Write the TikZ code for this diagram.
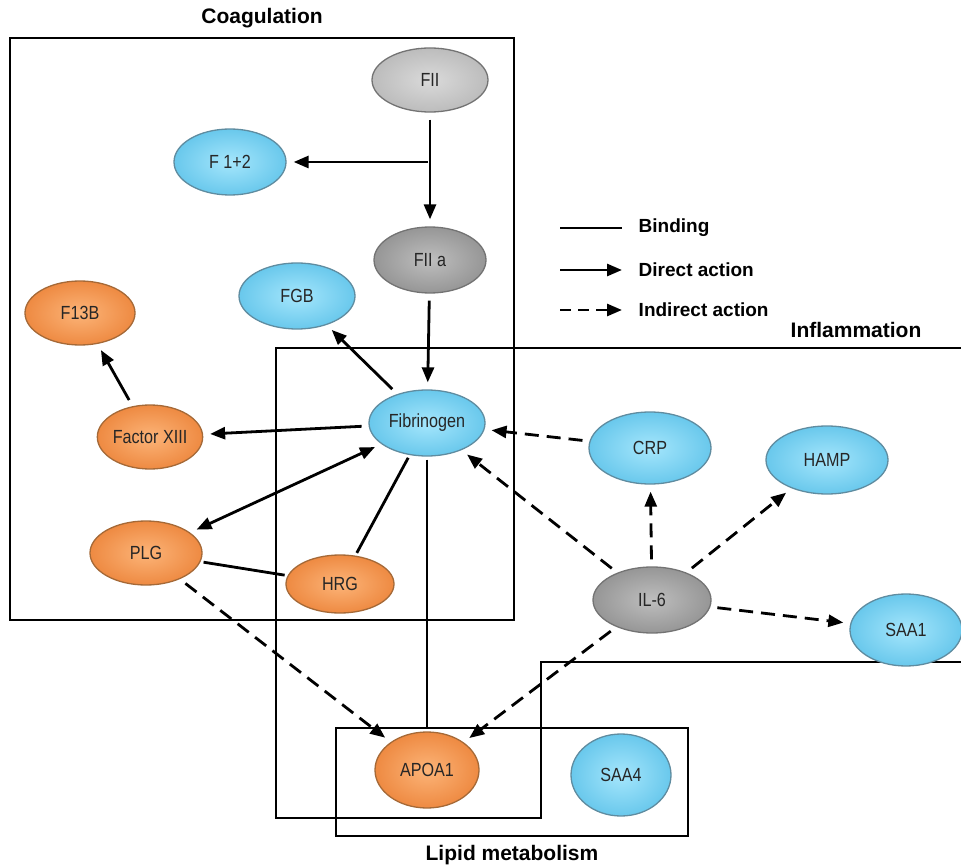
\documentclass[tikz,border=0pt]{standalone}
\usepackage{fontspec}
\setmainfont{Liberation Sans}
\newfontfamily\genefont[FakeStretch=0.85]{Liberation Sans}
\usepackage{xcolor}
\usepackage{tikz}
\usetikzlibrary{arrows.meta, positioning, shapes.geometric}
\definecolor{blueIn}{RGB}{165,230,252}
\definecolor{blueOut}{RGB}{105,200,236}
\definecolor{blueLine}{RGB}{95,140,160}
\definecolor{orIn}{RGB}{252,180,120}
\definecolor{orOut}{RGB}{238,138,66}
\definecolor{orLine}{RGB}{165,105,55}
\definecolor{grIn}{RGB}{218,218,218}
\definecolor{grOut}{RGB}{188,188,188}
\definecolor{dgIn}{RGB}{190,190,190}
\definecolor{dgOut}{RGB}{150,150,150}
\definecolor{grLine}{RGB}{115,115,115}
\tikzset{
  gene/.style={ellipse, draw, line width=1.3pt, inner sep=0pt, text=black!85,
               font=\genefont\fontsize{19}{21}\selectfont, minimum width=112pt, minimum height=66pt},
  bluegene/.style={gene, draw=blueLine, inner color=blueIn, outer color=blueOut},
  orgene/.style={gene, draw=orLine, inner color=orIn, outer color=orOut},
  graygene/.style={gene, draw=grLine, inner color=grIn, outer color=grOut},
  darkgene/.style={gene, draw=grLine, inner color=dgIn, outer color=dgOut},
  region/.style={draw=black, line width=1.6pt},
  title/.style={font=\fontsize{21}{24}\selectfont\bfseries},
  keytext/.style={font=\fontsize{19}{22}\selectfont\bfseries},
  bind/.style={line width=2.8pt, shorten <=3pt, shorten >=3pt},
  direct/.style={-{Triangle[length=15pt, width=12pt]}, line width=2.8pt, shorten <=7pt, shorten >=7pt},
  indirect/.style={direct, dash pattern=on 14pt off 8pt},
}
\begin{document}
\begin{tikzpicture}[x=1pt, y=-1pt]
\useasboundingbox (0,0) rectangle (961,866);

% regions
\draw[region] (10,38) rectangle (514,620);
\draw[region] (961,348) -- (276,348) -- (276,818) -- (541,818) -- (541,662) -- (961,662);
\draw[region] (336,728) rectangle (688,836);
\node[title] (coag) at (262,18) {Coagulation};
\node[title] (infl) at (856,330) {Inflammation};
\node[title] (lipid) at (512,855) {Lipid metabolism};

% genes
\node[graygene, minimum width=116pt, minimum height=64pt] (fii) at (430,80) {FII};
\node[bluegene] (f12) at (230,162) {F 1+2};
\node[darkgene] (fiia) at (430,260) {FII a};
\node[bluegene, minimum width=116pt] (fgb) at (297,296) {FGB};
\node[orgene, minimum width=110pt, minimum height=64pt] (f13b) at (80,313) {F13B};
\node[orgene, minimum width=100pt, minimum height=64pt] (fxiii) at (150,437) {Factor XIII};
\node[bluegene, minimum width=116pt] (fib) at (427,423) {Fibrinogen};
\node[bluegene, minimum width=122pt, minimum height=72pt] (crp) at (650,448) {CRP};
\node[bluegene, minimum width=122pt, minimum height=68pt] (hamp) at (827,460) {HAMP};
\node[orgene, minimum height=64pt] (plg) at (146,553) {PLG};
\node[orgene, minimum width=108pt, minimum height=58pt] (hrg) at (340,584) {HRG};
\node[darkgene, minimum width=118pt] (il6) at (652,600) {IL-6};
\node[bluegene, minimum height=72pt] (saa1) at (906,630) {SAA1};
\node[orgene, minimum width=104pt, minimum height=76pt] (apoa1) at (427,770) {APOA1};
\node[bluegene, minimum width=100pt, minimum height=82pt] (saa4) at (621,775) {SAA4};

% coagulation cascade
\coordinate (split) at (428,162);
\draw[direct] (fii) -- (fiia);
\draw[direct, shorten <=0pt] (split) -- (f12);
\draw[direct] (fiia) -- (fib);
\draw[direct] (fib) -- (fgb);
\draw[direct] (fib) -- (fxiii);
\draw[direct] (fxiii) -- (f13b);
\draw[direct, {Triangle[length=15pt, width=12pt]}-{Triangle[length=15pt, width=12pt]}] (fib) -- (plg);
\draw[bind] (fib) -- (hrg);
\draw[bind] (plg) -- (hrg);
\draw[bind] (fib) -- (apoa1);

% inflammation
\draw[indirect] (crp) -- (fib);
\draw[indirect] (il6) -- (fib);
\draw[indirect] (il6) -- (crp);
\draw[indirect] (il6) -- (hamp);
\draw[indirect] (il6) -- (saa1);
\draw[indirect] (il6) -- (apoa1);
\draw[indirect] (plg) -- (apoa1);

% legend
\coordinate (l1) at (560,228);
\coordinate (l2) at (560,270);
\coordinate (l3) at (560,310);
\draw[bind, shorten <=0pt, shorten >=0pt] (l1) -- ++(62,0) node[right=12pt, keytext] (kb) {Binding};
\draw[direct, shorten <=0pt, shorten >=0pt] (l2) -- ++(62,0) node[right=12pt, keytext] (kd) {Direct action};
\draw[indirect, shorten <=0pt, shorten >=0pt, dash pattern=on 11pt off 7pt] (l3) -- ++(62,0) node[right=12pt, keytext] (ki) {Indirect action};
\end{tikzpicture}
\end{document}
